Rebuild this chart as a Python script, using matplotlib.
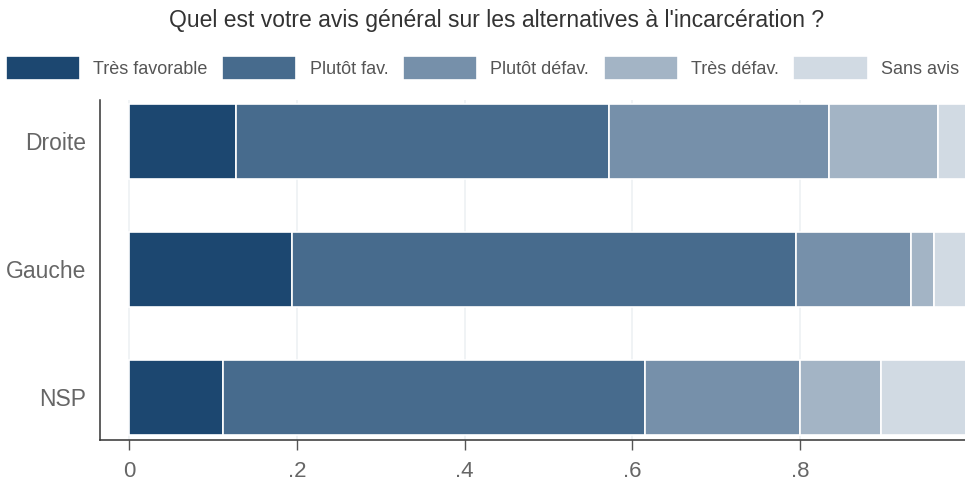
import matplotlib.pyplot as plt
import numpy as np

# Data
groups = ['Droite', 'Gauche', 'NSP']
categories = ['Très favorable', 'Plutôt fav.', 'Plutôt défav.', 'Très défav.', 'Sans avis']
tres_fav = [0.128, 0.194, 0.112]
plutot_fav = [0.444, 0.601, 0.503]
plutot_defav = [0.262, 0.137, 0.185]
tres_defav = [0.131, 0.028, 0.097]
sans_avis = [0.035, 0.040, 0.103]
xticks = [0, 0.2, 0.4, 0.6, 0.8]
xtick_labels = ['0', '.2', '.4', '.6', '.8']

colors = ['#1c4770', '#476b8d', '#7690aa', '#a3b4c5', '#d1dae3']
series = [tres_fav, plutot_fav, plutot_defav, tres_defav, sans_avis]

plt.rcParams['font.family'] = ['Liberation Sans', 'DejaVu Sans']

fig = plt.figure(figsize=(9.65, 4.83), dpi=100)
ax = fig.add_axes([100 / 965, 43 / 483, 867.75 / 965, 340 / 483])

y = np.arange(len(groups))
left = np.zeros(len(groups))
for vals, col, cat in zip(series, colors, categories):
    ax.barh(y, vals, left=left, height=0.586, color=col, edgecolor='white',
            linewidth=1.2, label=cat, zorder=2)
    left += np.array(vals)

ax.set_xlim(-0.0346, 1.0)
ax.set_ylim(2.332, -0.324)
ax.set_yticks(y)
ax.set_yticklabels(groups, fontsize=16.5, color='#666666')
ax.set_xticks(xticks)
ax.set_xticklabels(xtick_labels, fontsize=16, color='#666666')
ax.tick_params(axis='y', length=0, pad=10)
ax.tick_params(axis='x', length=7, width=1, color='#555555', pad=8)
ax.grid(axis='x', color='#edf1f3', linewidth=1.2, zorder=0)
ax.set_axisbelow(True)
for side in ['top', 'right']:
    ax.spines[side].set_visible(False)
for side in ['left', 'bottom']:
    ax.spines[side].set_color('#333333')
    ax.spines[side].set_linewidth(1.1)

fig.text(0.515, 1 - 20 / 483, "Quel est votre avis général sur les alternatives à l'incarcération ?",
         ha='center', va='center', fontsize=16.5, color='#333333')

fig.legend(loc='center', bbox_to_anchor=(0.5, 1 - 68 / 483), ncol=5, frameon=False,
           fontsize=13, labelcolor='#555555', handlelength=4.1, handleheight=1.6,
           handletextpad=0.75, columnspacing=0.8, borderaxespad=0)

fig.savefig('out.png', dpi=100)
